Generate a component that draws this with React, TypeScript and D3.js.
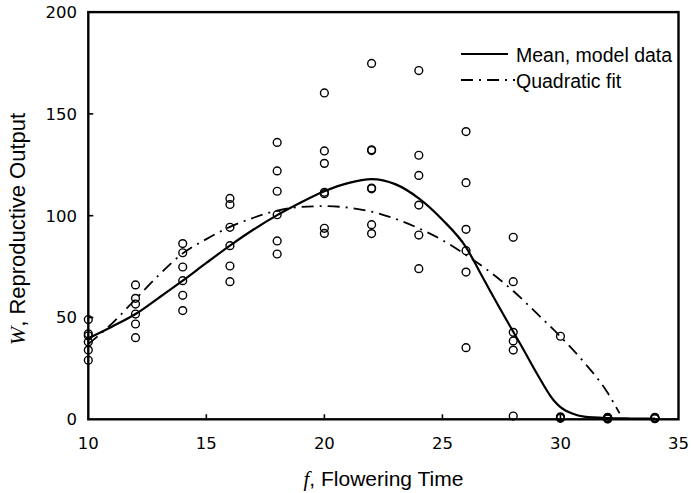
import React, { useEffect, useRef } from "react";
import * as d3 from "d3";

// axis ticks
const xTicks = [10, 15, 20, 25, 30, 35];
const yTicks = [0, 50, 100, 150, 200];

// model data points, grouped by flowering time
const pointTimes = [10, 12, 14, 16, 18, 20, 22, 24, 26, 28, 30, 32, 34];
const pointValues = [
  [49, 42, 41, 38, 34, 29],
  [66, 59.4, 56.6, 51.7, 46.8, 40.1],
  [86.3, 81.8, 74.8, 68.1, 60.9, 53.4],
  [108.5, 105.5, 94.3, 85.3, 75.3, 67.6],
  [136, 122, 112, 100.5, 87.6, 81.2],
  [160.3, 131.8, 125.7, 111.5, 110.8, 93.8, 91.3],
  [174.8, 132.4, 132, 113.6, 113.2, 95.6, 91.2],
  [171.3, 129.7, 119.8, 105.2, 90.5, 74],
  [141.3, 116.2, 93.3, 82.8, 72.3, 35.2],
  [89.4, 67.6, 42.7, 38.5, 34, 1.6],
  [40.8, 1.2, 0.8, 0.5],
  [1, 0.8, 0.5, 0.3, 0.2],
  [1, 0.7, 0.5, 0.3],
];

// mean of model data (solid line)
const meanX = [10, 11, 12, 13, 14, 15, 16, 17, 18, 19, 20, 21, 22, 23, 24, 25, 26, 26.6, 27, 28, 28.3, 29, 29.7, 30, 30.5, 31, 32, 33, 34];
const meanW = [39.8, 45.5, 51.7, 59.8, 68.1, 76.8, 85.3, 93.2, 100.3, 106.5, 112, 116, 118, 115.5, 108.5, 98, 84.5, 72, 63.5, 43, 37, 22.5, 9.5, 6, 2.8, 1.3, 0.6, 0.4, 0.3];

// quadratic fit (dash-dot line)
const fitX = [10, 11, 12, 13, 14, 15, 16, 17, 18, 19, 20, 21, 22, 23, 24, 25, 26, 27, 28, 29, 30, 31, 32, 32.5];
const fitW = [37, 47, 59, 71, 81.5, 88.5, 94.5, 99, 102.5, 104.3, 104.7, 104, 102, 98.5, 93.8, 88, 80.7, 72.5, 63, 52, 40.6, 28, 13, 3];

const dashDot = "12,6,2,6";

const App = () => {
  const ref = useRef(null);

  useEffect(() => {
    document.body.style.margin = "0";
    const svg = d3.select(ref.current);
    svg.selectAll("*").remove();

    const width = 691;
    const height = 493;
    svg.attr("width", width).attr("height", height);

    const x = d3.scaleLinear().domain([10, 35]).range([88.3, 678.5]);
    const y = d3.scaleLinear().domain([0, 200]).range([419.3, 12.1]);

    const tickFont = "'DejaVu Sans', Verdana, sans-serif";
    const textFont = "'Liberation Sans', Arial, sans-serif";
    const serif = "'Liberation Serif', 'Times New Roman', serif";

    // curves
    const line = d3
      .line<[number, number]>()
      .x((d) => x(d[0]))
      .y((d) => y(d[1]))
      .curve(d3.curveMonotoneX);

    svg
      .append("path")
      .attr("d", line(fitX.map((v, i) => [v, fitW[i]])))
      .attr("fill", "none")
      .attr("stroke", "#000")
      .attr("stroke-width", 1.8)
      .attr("stroke-dasharray", dashDot);

    svg
      .append("path")
      .attr("d", line(meanX.map((v, i) => [v, meanW[i]])))
      .attr("fill", "none")
      .attr("stroke", "#000")
      .attr("stroke-width", 2.2);

    // points
    const pts = pointTimes.flatMap((t, i) => pointValues[i].map((w) => ({ t, w })));
    svg
      .append("g")
      .selectAll("circle")
      .data(pts)
      .enter()
      .append("circle")
      .attr("cx", (d) => x(d.t))
      .attr("cy", (d) => y(d.w))
      .attr("r", 3.9)
      .attr("fill", "none")
      .attr("stroke", "#000")
      .attr("stroke-width", 1.4);

    // frame
    svg
      .append("rect")
      .attr("x", x(10))
      .attr("y", y(200))
      .attr("width", x(35) - x(10))
      .attr("height", y(0) - y(200))
      .attr("fill", "none")
      .attr("stroke", "#000")
      .attr("stroke-width", 2.4);

    // inward ticks
    svg
      .append("g")
      .selectAll("line")
      .data(xTicks.slice(1, -1))
      .enter()
      .append("line")
      .attr("x1", (d) => x(d))
      .attr("x2", (d) => x(d))
      .attr("y1", y(0))
      .attr("y2", y(0) - 5)
      .attr("stroke", "#000")
      .attr("stroke-width", 1.6);

    svg
      .append("g")
      .selectAll("line")
      .data(yTicks.slice(1, -1))
      .enter()
      .append("line")
      .attr("x1", x(10))
      .attr("x2", x(10) + 5)
      .attr("y1", (d) => y(d))
      .attr("y2", (d) => y(d))
      .attr("stroke", "#000")
      .attr("stroke-width", 1.6);

    // tick labels
    svg
      .append("g")
      .selectAll("text")
      .data(xTicks)
      .enter()
      .append("text")
      .attr("x", (d) => x(d))
      .attr("y", 449)
      .attr("text-anchor", "middle")
      .attr("font-family", tickFont)
      .attr("font-size", 16.5)
      .text((d) => d);

    svg
      .append("g")
      .selectAll("text")
      .data(yTicks)
      .enter()
      .append("text")
      .attr("x", 77)
      .attr("y", (d) => y(d))
      .attr("dy", "0.36em")
      .attr("text-anchor", "end")
      .attr("font-family", tickFont)
      .attr("font-size", 16.5)
      .text((d) => d);

    // axis titles
    const xt = svg
      .append("text")
      .attr("x", (x(10) + x(35)) / 2)
      .attr("y", 486)
      .attr("text-anchor", "middle")
      .attr("font-family", textFont)
      .attr("font-size", 21);
    xt.append("tspan").attr("font-family", serif).attr("font-style", "italic").text("f");
    xt.append("tspan").text(", Flowering Time");

    const yt = svg
      .append("text")
      .attr("transform", `translate(24.5, 229) rotate(-90)`)
      .attr("text-anchor", "middle")
      .attr("font-family", textFont)
      .attr("font-size", 22);
    yt.append("tspan").attr("font-family", serif).attr("font-style", "italic").text("W");
    yt.append("tspan").text(", Reproductive Output");

    // legend
    const legend = svg.append("g");
    legend
      .append("line")
      .attr("x1", 461)
      .attr("x2", 508)
      .attr("y1", 54)
      .attr("y2", 54)
      .attr("stroke", "#000")
      .attr("stroke-width", 2.2);
    legend
      .append("line")
      .attr("x1", 461)
      .attr("x2", 515)
      .attr("y1", 80)
      .attr("y2", 80)
      .attr("stroke", "#000")
      .attr("stroke-width", 1.8)
      .attr("stroke-dasharray", dashDot);
    legend
      .selectAll("text")
      .data(["Mean, model data", "Quadratic fit"])
      .enter()
      .append("text")
      .attr("x", 516)
      .attr("y", (d, i) => 61.5 + i * 26)
      .attr("font-family", textFont)
      .attr("font-size", 19.5)
      .text((d) => d);
  }, []);

  return <svg ref={ref} style={{ display: "block" }}></svg>;
};

export default App;
